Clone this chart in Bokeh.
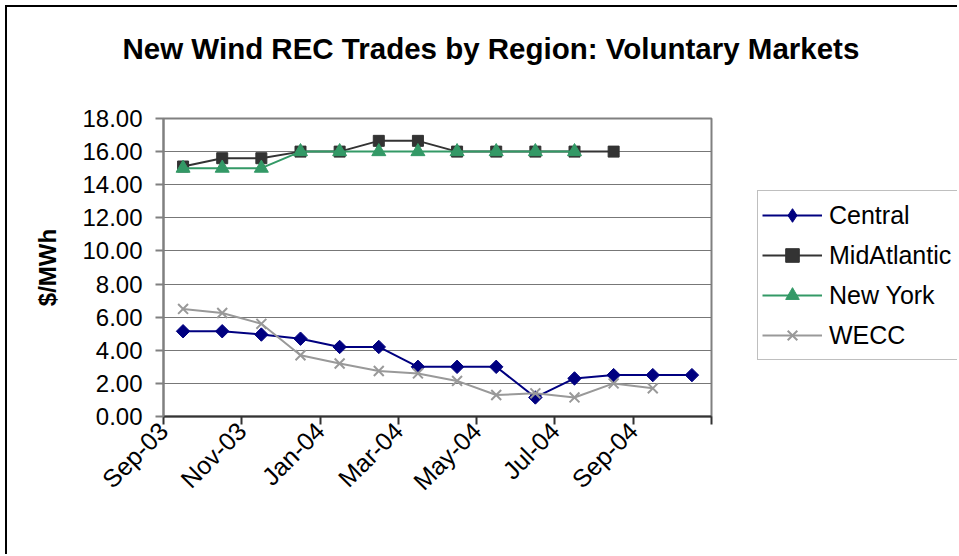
import math
from bokeh.plotting import figure
from bokeh.layouts import row, column
from bokeh.models import Legend, LegendItem, FixedTicker, NumeralTickFormatter, Range1d, Spacer
from bokeh.embed import file_html
from bokeh.resources import INLINE

months = ["Sep-03", "Oct-03", "Nov-03", "Dec-03", "Jan-04", "Feb-04", "Mar-04",
          "Apr-04", "May-04", "Jun-04", "Jul-04", "Aug-04", "Sep-04", "Oct-04"]
tick_labels = ["Sep-03", "Nov-03", "Jan-04", "Mar-04", "May-04", "Jul-04", "Sep-04", ""]
central = [5.15, 5.15, 4.95, 4.7, 4.2, 4.2, 3.0, 3.0, 3.0, 1.15, 2.3, 2.5, 2.5, 2.5]
midatlantic = [15.1, 15.6, 15.6, 16.0, 16.0, 16.65, 16.65, 16.0, 16.0, 16.0, 16.0, 16.0]
new_york = [15.0, 15.0, 15.0, 16.0, 16.0, 16.0, 16.0, 16.0, 16.0, 16.0, 16.0]
wecc = [6.5, 6.25, 5.6, 3.7, 3.2, 2.75, 2.6, 2.15, 1.3, 1.4, 1.15, 2.0, 1.7]
series_names = ["Central", "MidAtlantic", "New York", "WECC"]
y_ticks = [0, 2, 4, 6, 8, 10, 12, 14, 16, 18]
x_ticks = [0, 2, 4, 6, 8, 10, 12, 14]
title_text = "New Wind REC Trades by Region: Voluntary Markets"

FONT = "Liberation Sans"
C_CENTRAL, C_MID, C_NY, C_WECC = "#000080", "#333333", "#339966", "#999999"

def xs(vals):
    return [i + 0.5 for i in range(len(vals))]

# ---- title strip ----
t = figure(width=950, height=90, output_backend="svg", toolbar_location=None,
           x_axis_type=None, y_axis_type=None, min_border=0,
           x_range=Range1d(0, 1), y_range=Range1d(0, 1))
t.outline_line_color = None
t.grid.visible = False
t.title.text = title_text
t.title.text_font = FONT
t.title.text_font_size = "29.5px"
t.title.text_font_style = "bold"
t.title.text_color = "black"
t.title.align = "left"
t.title.offset = 115
t.title.standoff = 44

# ---- main chart ----
p = figure(width=714, height=457, output_backend="svg", toolbar_location=None,
           x_range=Range1d(0, len(months)), y_range=Range1d(0, 18),
           min_border_left=156, min_border_right=10, min_border_top=21, min_border_bottom=138)
p.background_fill_color = "white"
p.border_fill_color = "white"
p.outline_line_color = "#808080"
p.outline_line_width = 2

p.xgrid.visible = False
p.ygrid.grid_line_color = "#777777"
p.ygrid.grid_line_width = 1

p.yaxis.ticker = FixedTicker(ticks=y_ticks)
p.yaxis.formatter = NumeralTickFormatter(format="0.00")
p.yaxis.major_label_text_font = FONT
p.yaxis.major_label_text_font_size = "24px"
p.yaxis.major_label_text_color = "black"
p.yaxis.major_label_standoff = 13
p.yaxis.major_tick_out = 8
p.yaxis.major_tick_in = 0
p.yaxis.minor_tick_line_color = None
p.yaxis.axis_line_color = "#808080"
p.yaxis.axis_line_width = 2
p.yaxis.major_tick_line_color = "#808080"
p.yaxis.major_tick_line_width = 2
p.yaxis.axis_label = "$/MWh"
p.yaxis.axis_label_text_font = FONT
p.yaxis.axis_label_text_font_size = "24px"
p.yaxis.axis_label_text_font_style = "bold"
p.yaxis.axis_label_text_color = "black"
p.yaxis.axis_label_standoff = 18

p.xaxis.ticker = FixedTicker(ticks=x_ticks)
p.xaxis.major_label_overrides = {tk: lab for tk, lab in zip(x_ticks, tick_labels)}
p.xaxis.major_label_orientation = math.pi / 4
p.xaxis.major_label_text_font = FONT
p.xaxis.major_label_text_font_size = "25px"
p.xaxis.major_label_text_color = "black"
p.xaxis.major_label_standoff = 2
p.xaxis.major_tick_out = 8
p.xaxis.major_tick_in = 0
p.xaxis.minor_tick_line_color = None
p.xaxis.axis_line_color = "#333333"
p.xaxis.axis_line_width = 2
p.xaxis.major_tick_line_color = "#333333"
p.xaxis.major_tick_line_width = 2

p.line(xs(central), central, line_color=C_CENTRAL, line_width=2)
p.scatter(xs(central), central, marker="square", angle=math.pi / 4, size=9.5,
          fill_color=C_CENTRAL, line_color=C_CENTRAL)
p.line(xs(midatlantic), midatlantic, line_color=C_MID, line_width=2)
p.scatter(xs(midatlantic), midatlantic, marker="square", size=11,
          fill_color=C_MID, line_color=C_MID)
p.line(xs(new_york), new_york, line_color=C_NY, line_width=2)
p.scatter(xs(new_york), new_york, marker="triangle", size=14,
          fill_color=C_NY, line_color=C_NY)
p.line(xs(wecc), wecc, line_color=C_WECC, line_width=2)
p.scatter(xs(wecc), wecc, marker="x", size=14, line_color=C_WECC, line_width=2)

# ---- legend panel (series re-drawn out of view; only their legend keys show) ----
q = figure(width=236, height=457, output_backend="svg", toolbar_location=None,
           x_axis_type=None, y_axis_type=None, min_border=0,
           x_range=Range1d(100, 101), y_range=Range1d(100, 101))
q.outline_line_color = None
q.grid.visible = False
specs = [(central, C_CENTRAL, "diamond"), (midatlantic, C_MID, "square"),
         (new_york, C_NY, "triangle"), (wecc, C_WECC, "x")]
items = []
for name, (vals, col, mk) in zip(series_names, specs):
    ln = q.line(xs(vals), vals, line_color=col, line_width=2)
    sc = q.scatter(xs(vals), vals, marker=mk, fill_color=col, line_color=col,
                   line_width=2 if mk == "x" else 1)
    items.append(LegendItem(label=name, renderers=[ln, sc]))
legend = Legend(items=items, location=(36, 56))
legend.border_line_color = "#808080"
legend.border_line_width = 1.5
legend.background_fill_color = "white"
legend.label_text_font = FONT
legend.label_text_font_size = "25px"
legend.label_text_color = "black"
legend.padding = 4
legend.spacing = 0
legend.margin = 0
legend.glyph_height = 34
legend.glyph_width = 60
legend.label_height = 40
legend.label_width = 140
legend.label_standoff = 7
q.add_layout(legend, "center")

# ---- outer chart border (left and top edges) ----
top_line = Spacer(width=950, height=2, styles={"background-color": "#000000"})
left_line = Spacer(width=2, height=549, styles={"background-color": "#000000"})

layout = row(left_line, column(top_line, t, row(p, q)))
layout.margin = (5, 0, 0, 5)

open("out.html", "w").write(file_html(layout, INLINE))
